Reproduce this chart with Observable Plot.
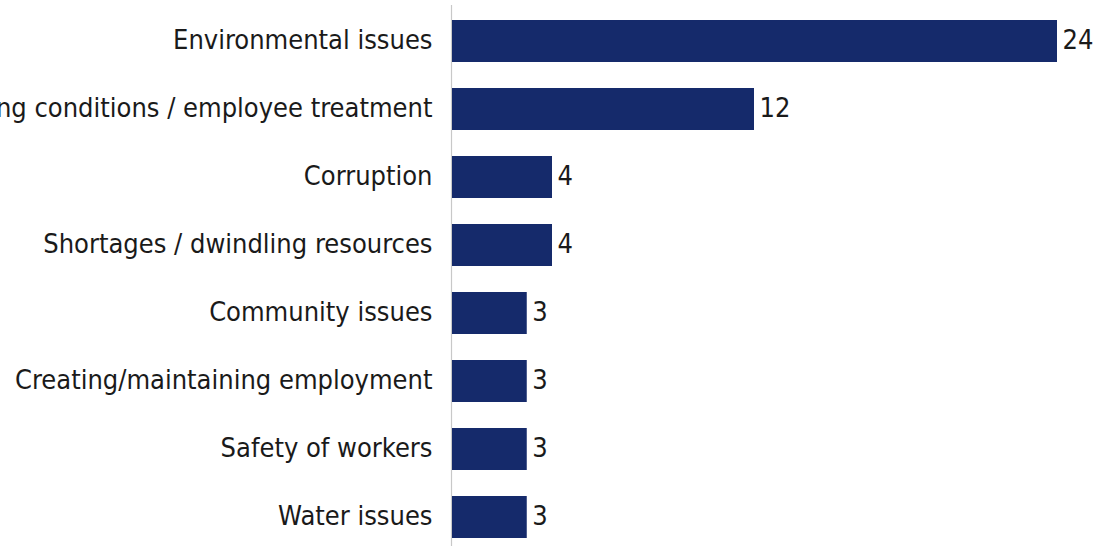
<!DOCTYPE html>
<html>
<head>
<meta charset="utf-8">
<script src="https://cdn.jsdelivr.net/npm/d3@7"></script>
<script src="https://cdn.jsdelivr.net/npm/@observablehq/plot@0.6"></script>
<style>
  html, body { margin: 0; padding: 0; background: #fff; overflow: hidden; }
</style>
</head>
<body>
<div id="chart"></div>
<script>
const categories = [
  "Environmental issues",
  "Working conditions / employee treatment",
  "Corruption",
  "Shortages / dwindling resources",
  "Community issues",
  "Creating/maintaining employment",
  "Safety of workers",
  "Water issues"
];
const values = [24, 12, 4, 4, 3, 3, 3, 3];

const data = categories.map((c, i) => ({category: c, value: values[i]}));

const font = "'DejaVu Sans Condensed', 'Liberation Sans Narrow', sans-serif";

const chart = Plot.plot({
  width: 1093,
  height: 546,
  marginLeft: 451,
  marginRight: 36,
  marginTop: 0,
  marginBottom: 0,
  style: {fontFamily: font, fontSize: "27px", color: "#1a1a1a", background: "#fff", overflow: "visible"},
  x: {domain: [0, 24], range: [451, 1057], axis: null},
  y: {domain: categories, range: [7, 551], paddingInner: 0.38, paddingOuter: 0.19, label: null},
  marks: [
    Plot.ruleX([0], {stroke: "#c8c8c8", strokeWidth: 1.2, insetTop: 5}),
    Plot.barX(data, {x: "value", y: "category", fill: "#152a6b", insetLeft: 1}),
    Plot.text(data, {x: "value", y: "category", text: d => String(d.value), textAnchor: "start", dx: 5, dy: -1, fill: "#1a1a1a", fontSize: 27}),
    Plot.axisY({tickSize: 0, tickPadding: 19, fontSize: 27, fill: "#1a1a1a", label: null, dy: -1})
  ]
});
document.getElementById("chart").appendChild(chart);
</script>
</body>
</html>
